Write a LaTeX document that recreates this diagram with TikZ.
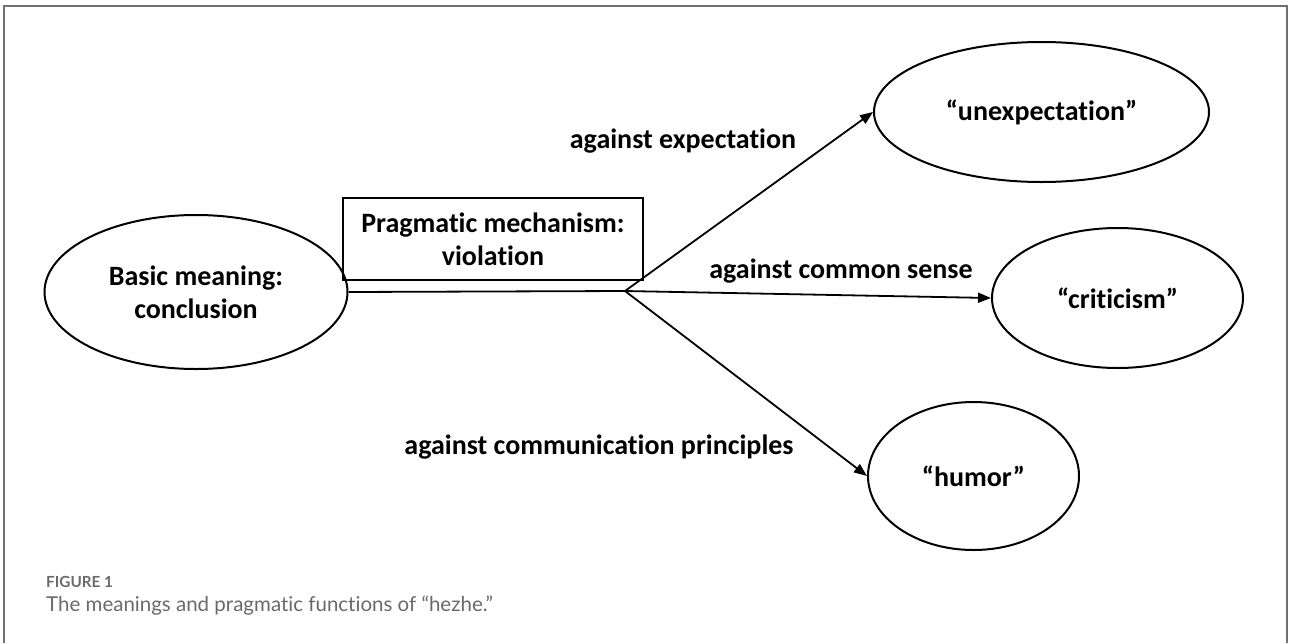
\documentclass[tikz,border=0pt]{standalone}
\usepackage{fontspec}
\setmainfont{Carlito}[RawFeature={-liga,-clig,-calt,-dlig}]
\newfontfamily\capfont{Lato}[RawFeature={-liga,-clig,-calt,-dlig}]
\usetikzlibrary{shapes.geometric,arrows.meta}
\definecolor{framegray}{HTML}{707070}
\definecolor{capgray}{HTML}{6A6A6A}
\begin{document}
\begin{tikzpicture}[x=1pt,y=-1pt,
  oval/.style={draw, ellipse, line width=2pt, inner sep=0pt, font=\fontsize{28}{33}\selectfont\bfseries, align=center},
  mechbox/.style={draw, rectangle, line width=1.6pt, inner sep=0pt, font=\fontsize{28}{33}\selectfont\bfseries, align=center},
  lbl/.style={font=\fontsize{28}{33}\selectfont\bfseries, inner sep=0pt},
  conn/.style={line width=1.8pt},
  arr/.style={line width=1.8pt, -{Triangle[length=13pt,width=10pt]}}
]
\useasboundingbox (0,0) rectangle (1290,643);
\draw[framegray, line width=2pt] (4,643) -- (4,6) -- (1287,6) -- (1287,643);

\node[oval, minimum width=303pt, minimum height=154pt] (basic) at (196,292) {Basic meaning:\\conclusion};
\node[mechbox, minimum width=300pt, minimum height=82pt] (mech) at (493,239) {Pragmatic mechanism:\\violation};
\node[oval, minimum width=335pt, minimum height=140pt] (unexp) at (1041.5,112) {“unexpectation”};
\node[oval, minimum width=251pt, minimum height=140pt] (crit) at (1117.5,298) {“criticism”};
\node[oval, minimum width=211pt, minimum height=148pt] (humor) at (973.5,476) {“humor”};

\coordinate (split) at (625,291);
\draw[conn] (basic.east) -- (split);
\draw[arr] (split) -- (unexp.west);
\draw[arr] (split) -- (crit.west);
\draw[arr] (split) -- (humor.west);

\node[lbl] (l1) at (683,141) {against expectation};
\node[lbl] (l2) at (841,271) {against common sense};
\node[lbl] (l3) at (599,447) {against communication principles};

\node[anchor=west, inner sep=0pt, text=capgray, font=\capfont\fontsize{15.3}{18}\selectfont\bfseries] (fig) at (46,582) {FIGURE 1};
\node[anchor=west, inner sep=0pt, text=capgray, font=\capfont\fontsize{20.5}{24}\selectfont] (cap) at (46,606) {The meanings and pragmatic functions of “hezhe.”};
\end{tikzpicture}
\end{document}
